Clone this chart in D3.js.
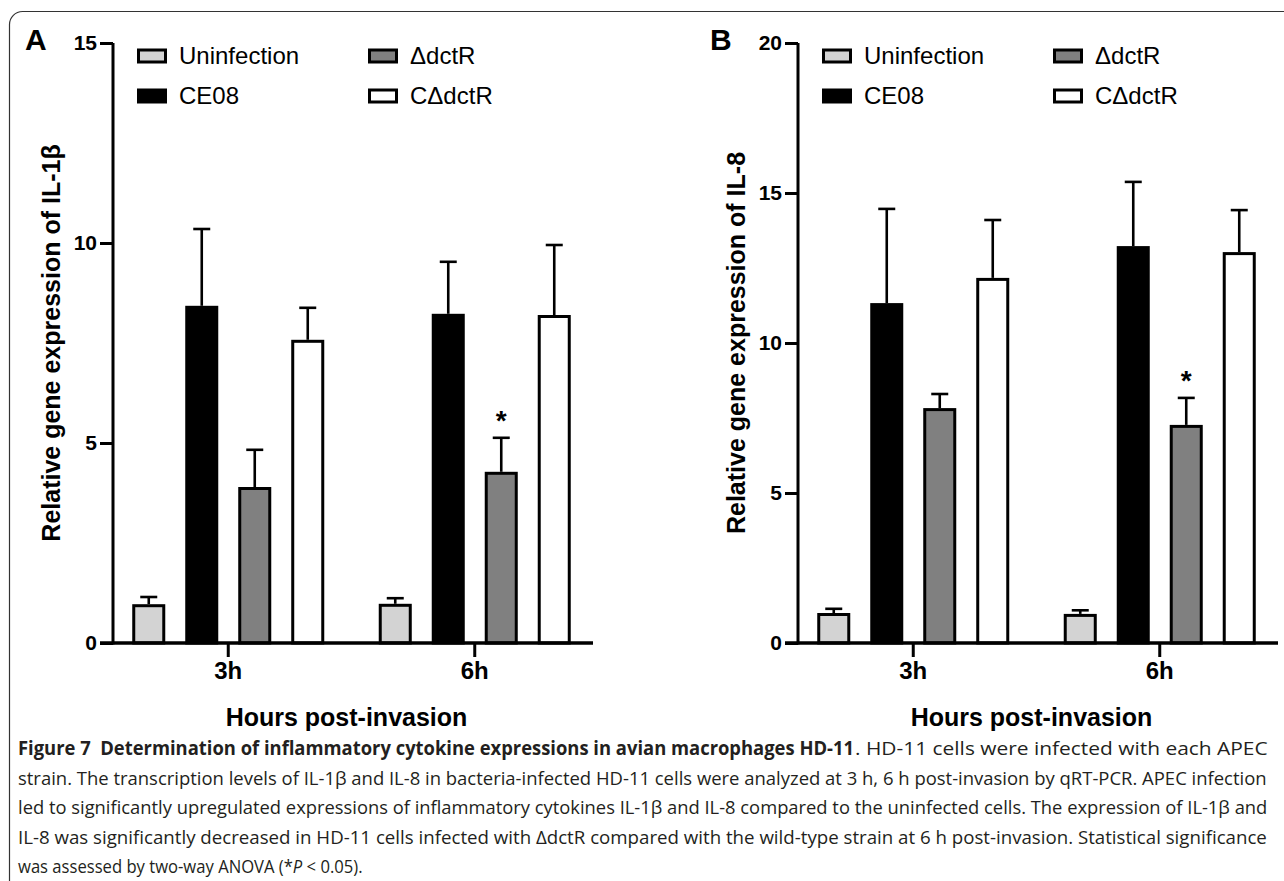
<!DOCTYPE html>
<html>
<head>
<meta charset="utf-8">
<script src="https://cdn.jsdelivr.net/npm/d3@7"></script>
<style>
  body { margin: 0; background: #fff; }
  svg { display: block; }
  .plot text { font-family: "Liberation Sans", Arial, sans-serif; }
  .caption text { font-family: "Open Sans", "Noto Sans", sans-serif; white-space: pre; }
</style>
</head>
<body>
<svg id="fig" width="1284" height="881"></svg>
<script>
// categories
const timePoints = ["3h", "6h"];
const strains = ["Uninfection", "CE08", "ΔdctR", "CΔdctR"];
const strainFills = ["#d3d3d3", "#000000", "#808080", "#ffffff"];

// IL-1β, mean and SD per strain at [3h, 6h]
const il1bUninfection = [0.97, 0.98];
const il1bCE08 = [8.43, 8.23];
const il1bDctR = [3.90, 4.28];
const il1bCDctR = [7.58, 8.20];
const il1bUninfectionSd = [0.18, 0.14];
const il1bCE08Sd = [1.92, 1.30];
const il1bDctRSd = [0.93, 0.85];
const il1bCDctRSd = [0.80, 1.75];

// IL-8
const il8Uninfection = [1.00, 0.97];
const il8CE08 = [11.33, 13.23];
const il8DctR = [7.83, 7.27];
const il8CDctR = [12.17, 13.03];
const il8UninfectionSd = [0.14, 0.12];
const il8CE08Sd = [3.14, 2.14];
const il8DctRSd = [0.47, 0.90];
const il8CDctRSd = [1.93, 1.40];

// significance marks (strain, time point)
const significant = [{ strain: "ΔdctR", time: "6h" }];

const il1bTicks = [0, 5, 10, 15];
const il8Ticks = [0, 5, 10, 15, 20];

const captionTitle = "Figure 7  Determination of inflammatory cytokine expressions in avian macrophages HD-11";
const captionLines = [
  [["r", ". HD-11 cells were infected with each APEC"]],
  [["r", "strain. The transcription levels of IL-1β and IL-8 in bacteria-infected HD-11 cells were analyzed at 3 h, 6 h post-invasion by qRT-PCR. APEC infection"]],
  [["r", "led to significantly upregulated expressions of inflammatory cytokines IL-1β and IL-8 compared to the uninfected cells. The expression of IL-1β and"]],
  [["r", "IL-8 was significantly decreased in HD-11 cells infected with ΔdctR compared with the wild-type strain at 6 h post-invasion. Statistical significance"]],
  [["r", "was assessed by two-way ANOVA (*"], ["i", "P"], ["r", " < 0.05)."]]
];

function buildRows(means, sds) {
  const rows = [];
  timePoints.forEach((t, ti) => {
    strains.forEach((s, si) => {
      rows.push({ time: t, strain: s, mean: means[si][ti], sd: sds[si][ti], fill: strainFills[si] });
    });
  });
  return rows;
}

const svg = d3.select("#fig");

// outer rounded frame of the figure
svg.append("rect")
  .attr("x", 9.5).attr("y", 11.5)
  .attr("width", 1400).attr("height", 1000)
  .attr("rx", 13)
  .attr("fill", "none")
  .attr("stroke", "#333")
  .attr("stroke-width", 1.2);

function drawPanel(offsetX, letter, yMax, ticks, yTitle, rows) {
  const g = svg.append("g").attr("class", "plot").attr("transform", `translate(${offsetX},0)`);

  const y = d3.scaleLinear().domain([0, yMax]).range([643, 43]);
  const x0 = d3.scaleBand().domain(timePoints).range([105, 598]).paddingInner(0.14).paddingOuter(0.07);
  const x1 = d3.scaleBand().domain(strains).range([0, x0.bandwidth()]).paddingInner(0.377).paddingOuter(0.1885);

  const bw = x1.bandwidth();

  // bars
  g.append("g")
    .selectAll("rect")
    .data(rows)
    .enter()
    .append("rect")
    .attr("x", d => x0(d.time) + x1(d.strain) + 1.5)
    .attr("width", bw - 3)
    .attr("y", d => y(d.mean) + 1.5)
    .attr("height", d => y(0) - y(d.mean) - 1.5)
    .attr("fill", d => d.fill)
    .attr("stroke", "#000")
    .attr("stroke-width", 3);

  // error bars (upper only)
  const err = g.append("g").attr("stroke", "#000").attr("stroke-width", 2.6);
  err.selectAll("line.stem")
    .data(rows)
    .enter()
    .append("line")
    .attr("class", "stem")
    .attr("x1", d => x0(d.time) + x1(d.strain) + bw / 2)
    .attr("x2", d => x0(d.time) + x1(d.strain) + bw / 2)
    .attr("y1", d => y(d.mean))
    .attr("y2", d => y(d.mean + d.sd));
  err.selectAll("line.cap")
    .data(rows)
    .enter()
    .append("line")
    .attr("class", "cap")
    .attr("x1", d => x0(d.time) + x1(d.strain) + bw / 2 - 8.5)
    .attr("x2", d => x0(d.time) + x1(d.strain) + bw / 2 + 8.5)
    .attr("y1", d => y(d.mean + d.sd))
    .attr("y2", d => y(d.mean + d.sd));

  // asterisks
  g.append("g")
    .selectAll("text")
    .data(rows.filter(d => significant.some(s => s.strain === d.strain && s.time === d.time)))
    .enter()
    .append("text")
    .attr("x", d => x0(d.time) + x1(d.strain) + bw / 2)
    .attr("y", d => y(d.mean + d.sd) - 8)
    .attr("text-anchor", "middle")
    .attr("font-size", 28)
    .attr("font-weight", "bold")
    .text("*");

  // y axis
  const yAxis = g.append("g")
    .attr("transform", "translate(113,0)")
    .call(d3.axisLeft(y).tickValues(ticks).tickSize(13).tickSizeOuter(0).tickPadding(3));
  yAxis.select(".domain").attr("stroke-width", 3).attr("d", `M0,${y(yMax)}V${y(0) + 1.5}`);
  yAxis.selectAll(".tick line").attr("stroke-width", 3);
  yAxis.selectAll(".tick text")
    .attr("font-size", 21)
    .attr("font-weight", "bold")
    .attr("fill", "#000");

  // x axis
  const xAxis = g.append("g")
    .attr("transform", `translate(0,${y(0)})`)
    .call(d3.axisBottom(x0).tickSize(14).tickPadding(5));
  xAxis.select(".domain").remove();
  xAxis.append("line")
    .attr("x1", x0.range()[0] - 5).attr("x2", x0.range()[1] - 5)
    .attr("stroke", "#000").attr("stroke-width", 3.5);
  xAxis.selectAll(".tick line").attr("stroke-width", 3);
  xAxis.selectAll(".tick text")
    .attr("font-size", 24)
    .attr("font-weight", "bold")
    .attr("fill", "#000");

  // axis titles
  g.append("text")
    .attr("transform", `translate(60,${(y(0) + y(yMax)) / 2}) rotate(-90)`)
    .attr("text-anchor", "middle")
    .attr("font-size", 25)
    .attr("font-weight", "bold")
    .text(yTitle);

  g.append("text")
    .attr("x", (x0.range()[0] + x0.range()[1]) / 2 - 5)
    .attr("y", 726)
    .attr("text-anchor", "middle")
    .attr("font-size", 25)
    .attr("font-weight", "bold")
    .text("Hours post-invasion");

  // panel letter
  g.append("text")
    .attr("x", 25).attr("y", 50)
    .attr("font-size", 30)
    .attr("font-weight", "bold")
    .text(letter);

  // legend, two columns
  const legend = g.append("g")
    .selectAll("g")
    .data(strains.map((s, i) => ({ name: s, fill: strainFills[i], col: Math.floor(i / 2), row: i % 2 })))
    .enter()
    .append("g")
    .attr("transform", d => `translate(${137 + d.col * 231},${56 + d.row * 40})`);

  legend.append("rect")
    .attr("x", 1.5).attr("y", -6)
    .attr("width", 27).attr("height", 12)
    .attr("fill", d => d.fill)
    .attr("stroke", "#000")
    .attr("stroke-width", 3);

  legend.append("text")
    .attr("x", 42).attr("y", 8)
    .attr("font-size", 24)
    .text(d => d.name);
}

drawPanel(0, "A", 15, il1bTicks, "Relative gene expression of IL-1β",
  buildRows([il1bUninfection, il1bCE08, il1bDctR, il1bCDctR],
            [il1bUninfectionSd, il1bCE08Sd, il1bDctRSd, il1bCDctRSd]));

drawPanel(685, "B", 20, il8Ticks, "Relative gene expression of IL-8",
  buildRows([il8Uninfection, il8CE08, il8DctR, il8CDctR],
            [il8UninfectionSd, il8CE08Sd, il8DctRSd, il8CDctRSd]));

// caption: condensed lines, squeezed horizontally to fit the text block
const cap = svg.append("g")
  .attr("class", "caption")
  .attr("font-size", 19)
  .attr("fill", "#231f20");

const capLeft = 18;
const capRight = 1268;
const titleEnd = 855;
const lineGap = 29.5;
const firstBaseline = 755;

function squeeze(t, x, yPos, width) {
  const natural = t.node().getComputedTextLength();
  const k = width ? width / natural : squeeze.k;
  t.attr("transform", `translate(${x},${yPos}) scale(${k},1)`);
  return k;
}

const title = cap.append("text")
  .attr("font-weight", "bold")
  .text(captionTitle);
squeeze(title, capLeft, firstBaseline, titleEnd - capLeft);

captionLines.forEach((parts, i) => {
  const t = cap.append("text");
  parts.forEach(p => {
    t.append("tspan")
      .attr("font-style", p[0] === "i" ? "italic" : "normal")
      .text(p[1]);
  });
  const yPos = firstBaseline + i * lineGap;
  if (i === 0) {
    squeeze(t, titleEnd, yPos, capRight - titleEnd);
  } else if (i < captionLines.length - 1) {
    const k = squeeze(t, capLeft, yPos, capRight - capLeft);
    // justified lines carry stretched spaces, so the natural squeeze is a bit tighter
    if (i === 1) squeeze.k = k * 0.9;
  } else {
    squeeze(t, capLeft, yPos, 0);
  }
});
</script>
</body>
</html>
